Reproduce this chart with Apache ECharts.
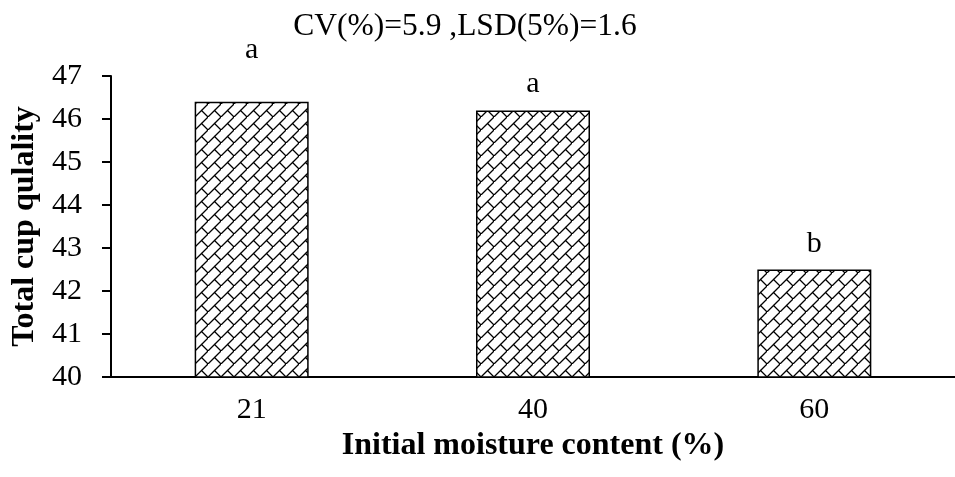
<!DOCTYPE html>
<html><head><meta charset="utf-8">
<script src="https://cdn.jsdelivr.net/npm/echarts@6/dist/echarts.min.js"></script>
<style>html,body{margin:0;padding:0;background:#fff}#c{width:955px;height:477px}</style>
</head><body><div id="c"></div>
<script>
const categories = ['21', '40', '60'];
const values = [46.4, 46.2, 42.5];
const letters = ['a', 'a', 'b'];
const letterPos = [47.6, 46.8, 43.1];
const yTicks = [40, 41, 42, 43, 44, 45, 46, 47];
const titleText = 'CV(%)=5.9 ,LSD(5%)=1.6';

// diagonal brick pattern
const P = 13;
const pc = document.createElement('canvas');
pc.width = P; pc.height = P;
const g = pc.getContext('2d');
g.fillStyle = '#fff'; g.fillRect(0,0,P,P);
g.strokeStyle = '#000'; g.lineWidth = 1.3; g.lineCap = 'square';
g.beginPath();
g.moveTo(-1, P+1); g.lineTo(P+1, -1);
g.moveTo(P/2, P/2); g.lineTo(P, P);
g.stroke();

const font = 'Liberation Serif';
const chart = echarts.init(document.getElementById('c'), null, {renderer:'canvas'});
chart.setOption({
  animation:false,
  backgroundColor:'#fff',
  title:{text:titleText,left:460,textAlign:'center',top:6,textStyle:{fontFamily:font,fontSize:31.5,fontWeight:'normal',color:'#000'}},
  grid:{left:111,top:76,width:855,height:301},
  xAxis:{type:'category',data:categories,
    axisLine:{lineStyle:{color:'#000',width:2}},axisTick:{show:false},
    axisLabel:{fontFamily:font,fontSize:30,color:'#000',margin:18},
    name:'Initial moisture content (%)',nameLocation:'middle',nameGap:46,
    nameTextStyle:{fontFamily:font,fontSize:32,fontWeight:'bold',color:'#000'}},
  yAxis:{type:'value',min:yTicks[0],max:yTicks[yTicks.length-1],interval:1,
    axisLine:{show:true,lineStyle:{color:'#000',width:2}},
    axisTick:{show:true,length:9,lineStyle:{color:'#000',width:2}},
    splitLine:{show:false},
    axisLabel:{fontFamily:font,fontSize:30,color:'#000',margin:29},
    name:'Total cup qulality',nameLocation:'middle',nameGap:66,
    nameTextStyle:{fontFamily:font,fontSize:32,fontWeight:'bold',color:'#000'}},
  series:[
    {type:'bar',data:values,barWidth:114,
     itemStyle:{color:{image:pc,repeat:'repeat'},borderColor:'#000',borderWidth:1.5}},
    {type:'scatter',data:letterPos,symbolSize:0,clip:false,silent:true,
     itemStyle:{opacity:1,color:'#000'},
     label:{show:true,position:'inside',formatter:p=>letters[p.dataIndex],opacity:1,
       fontFamily:font,fontSize:30,color:'#000',textBorderWidth:0}}
  ]
});
</script></body></html>
